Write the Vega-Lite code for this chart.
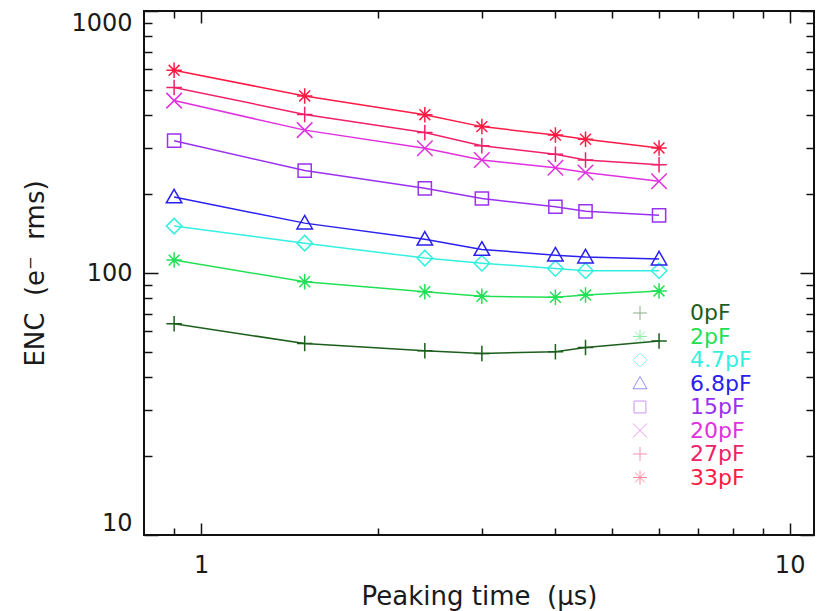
{
  "$schema": "https://vega.github.io/schema/vega-lite/v6.json",
  "width": 670,
  "height": 524,
  "autosize": {"type": "none"},
  "padding": {"left": 144, "top": 11, "right": 11, "bottom": 76},
  "background": "white",
  "config": {
    "font": "DejaVu Sans",
    "view": {"stroke": "#111111", "strokeWidth": 2},
    "axis": {"grid": false, "domain": false, "tickColor": "#111111", "tickWidth": 1.5, "labelColor": "#1a1a1a", "titleColor": "#1a1a1a", "labelFont": "DejaVu Sans", "titleFont": "DejaVu Sans"}
  },
  "data": {
    "values": [
      {"series": "0pF", "t": 0.9, "enc": 64},
      {"series": "0pF", "t": 1.5, "enc": 53.8},
      {"series": "0pF", "t": 2.4, "enc": 50.5},
      {"series": "0pF", "t": 3, "enc": 49.3},
      {"series": "0pF", "t": 4, "enc": 50.1},
      {"series": "0pF", "t": 4.5, "enc": 52},
      {"series": "0pF", "t": 6, "enc": 55},
      {"series": "2pF", "t": 0.9, "enc": 112},
      {"series": "2pF", "t": 1.5, "enc": 92.6},
      {"series": "2pF", "t": 2.4, "enc": 84.8},
      {"series": "2pF", "t": 3, "enc": 81.5},
      {"series": "2pF", "t": 4, "enc": 80.8},
      {"series": "2pF", "t": 4.5, "enc": 82.4},
      {"series": "2pF", "t": 6, "enc": 85.4},
      {"series": "4.7pF", "t": 0.9, "enc": 151},
      {"series": "4.7pF", "t": 1.5, "enc": 130},
      {"series": "4.7pF", "t": 2.4, "enc": 114},
      {"series": "4.7pF", "t": 3, "enc": 109},
      {"series": "4.7pF", "t": 4, "enc": 104},
      {"series": "4.7pF", "t": 4.5, "enc": 102},
      {"series": "4.7pF", "t": 6, "enc": 102},
      {"series": "6.8pF", "t": 0.9, "enc": 195},
      {"series": "6.8pF", "t": 1.5, "enc": 155},
      {"series": "6.8pF", "t": 2.4, "enc": 134.5},
      {"series": "6.8pF", "t": 3, "enc": 123},
      {"series": "6.8pF", "t": 4, "enc": 117},
      {"series": "6.8pF", "t": 4.5, "enc": 115},
      {"series": "6.8pF", "t": 6, "enc": 113},
      {"series": "15pF", "t": 0.9, "enc": 320},
      {"series": "15pF", "t": 1.5, "enc": 246},
      {"series": "15pF", "t": 2.4, "enc": 210.5},
      {"series": "15pF", "t": 3, "enc": 192.5},
      {"series": "15pF", "t": 4, "enc": 179},
      {"series": "15pF", "t": 4.5, "enc": 172},
      {"series": "15pF", "t": 6, "enc": 166},
      {"series": "20pF", "t": 0.9, "enc": 455},
      {"series": "20pF", "t": 1.5, "enc": 351},
      {"series": "20pF", "t": 2.4, "enc": 299.5},
      {"series": "20pF", "t": 3, "enc": 270},
      {"series": "20pF", "t": 4, "enc": 252},
      {"series": "20pF", "t": 4.5, "enc": 242},
      {"series": "20pF", "t": 6, "enc": 224},
      {"series": "27pF", "t": 0.9, "enc": 511},
      {"series": "27pF", "t": 1.5, "enc": 403},
      {"series": "27pF", "t": 2.4, "enc": 344},
      {"series": "27pF", "t": 3, "enc": 306},
      {"series": "27pF", "t": 4, "enc": 284},
      {"series": "27pF", "t": 4.5, "enc": 270},
      {"series": "27pF", "t": 6, "enc": 259},
      {"series": "33pF", "t": 0.9, "enc": 594},
      {"series": "33pF", "t": 1.5, "enc": 474},
      {"series": "33pF", "t": 2.4, "enc": 402},
      {"series": "33pF", "t": 3, "enc": 362},
      {"series": "33pF", "t": 4, "enc": 336},
      {"series": "33pF", "t": 4.5, "enc": 324},
      {"series": "33pF", "t": 6, "enc": 300}
    ]
  },
  "resolve": {"axis": {"x": "independent", "y": "independent"}},
  "layer": [
    {
      "mark": {"type": "line", "strokeWidth": 1.5},
      "encoding": {
        "x": {"field": "t", "type": "quantitative", "scale": {"type": "log", "domain": [0.8, 11], "nice": false},
          "axis": {"orient": "bottom", "values": [1, 10], "ticks": false, "labels": true, "format": "~g", "labelFontSize": 24, "labelPadding": 18, "labelFlush": false, "labelOverlap": false, "title": "Peaking time\u00a0\u00a0(μs)", "titleFontSize": 26, "titleFontWeight": "normal", "titlePadding": 6}},
        "y": {"field": "enc", "type": "quantitative", "scale": {"type": "log", "domain": [10, 1000], "nice": false},
          "axis": {"orient": "left", "values": [10, 100, 1000], "ticks": false, "labels": true, "format": "~g", "labelFontSize": 24, "labelPadding": 12, "labelFlush": true, "labelOverlap": false, "title": "ENC\u00a0\u00a0(e⁻\u00a0\u00a0rms)", "titleFontSize": 26, "titleFontWeight": "normal", "titlePadding": 22}},
        "stroke": {"field": "series", "type": "nominal",
          "scale": {"domain": ["33pF", "27pF", "20pF", "15pF", "6.8pF", "4.7pF", "2pF", "0pF"],
                    "range": ["#ff1a44", "#f0206a", "#e030e0", "#9a30f0", "#2a20f0", "#33f0e0", "#22e055", "#1c5e1c"]},
          "legend": null}
      }
    },
    {
      "mark": {"type": "point", "filled": false, "strokeWidth": 1.5, "size": 240, "opacity": 1},
      "encoding": {
        "x": {"field": "t", "type": "quantitative", "scale": {"type": "log", "domain": [0.8, 11], "nice": false},
          "axis": {"orient": "bottom", "values": [1, 10], "labels": false, "title": null, "tickSize": -12}},
        "y": {"field": "enc", "type": "quantitative", "scale": {"type": "log", "domain": [10, 1000], "nice": false},
          "axis": {"orient": "left", "values": [10, 100, 1000], "labels": false, "title": null, "tickSize": -14}},
        "color": {"field": "series", "type": "nominal",
          "scale": {"domain": ["0pF", "2pF", "4.7pF", "6.8pF", "15pF", "20pF", "27pF", "33pF"],
                    "range": ["#1c5e1c", "#22e055", "#33f0e0", "#2a20f0", "#9a30f0", "#e030e0", "#f0206a", "#ff1a44"]},
          "legend": {"orient": "none", "legendX": 485, "legendY": 291, "title": null, "labelFont": "DejaVu Sans", "labelFontSize": 22, "labelOffset": 39, "rowPadding": 1.5, "symbolSize": 196, "symbolStrokeWidth": 1, "symbolOpacity": 0.5, "padding": 0,
            "labelColor": {"expr": "scale('color', datum.value)"}}},
        "shape": {"field": "series", "type": "nominal",
          "scale": {"domain": ["0pF", "2pF", "4.7pF", "6.8pF", "15pF", "20pF", "27pF", "33pF"],
                    "range": ["M-1,0L1,0M0,-1L0,1",
                              "M0,-1L0,1M-1,0L1,0M-0.7,-0.7L0.7,0.7M-0.7,0.7L0.7,-0.7",
                              "M0,-1L1,0L0,1L-1,0Z",
                              "M0,-1L1,0.75L-1,0.75Z",
                              "M-0.85,-0.85L0.85,-0.85L0.85,0.85L-0.85,0.85Z",
                              "M-1,-1L1,1M-1,1L1,-1",
                              "M-1,0L1,0M0,-1L0,1",
                              "M0,-1L0,1M-1,0L1,0M-0.7,-0.7L0.7,0.7M-0.7,0.7L0.7,-0.7"]},
          "legend": {"orient": "none", "legendX": 485, "legendY": 291, "title": null, "labelFont": "DejaVu Sans", "labelFontSize": 22, "labelOffset": 39, "rowPadding": 1.5, "symbolSize": 196, "symbolStrokeWidth": 1, "symbolOpacity": 0.5, "padding": 0,
            "labelColor": {"expr": "scale('color', datum.value)"}}}
      }
    },
    {
      "mark": {"type": "point", "opacity": 0},
      "encoding": {
        "x": {"field": "t", "type": "quantitative", "scale": {"type": "log", "domain": [0.8, 11], "nice": false},
          "axis": {"orient": "bottom", "values": [0.9, 2, 3, 4, 5, 6, 7, 8, 9], "labels": false, "title": null, "tickSize": -7}},
        "y": {"field": "enc", "type": "quantitative", "scale": {"type": "log", "domain": [10, 1000], "nice": false},
          "axis": {"orient": "left", "values": [20, 30, 40, 50, 60, 70, 80, 90, 200, 300, 400, 500, 600, 700, 800, 900], "labels": false, "title": null, "tickSize": -8}}
      }
    },
    {
      "mark": {"type": "point", "opacity": 0},
      "encoding": {
        "x": {"field": "t", "type": "quantitative", "scale": {"type": "log", "domain": [0.8, 11], "nice": false},
          "axis": {"orient": "top", "values": [1, 10], "labels": false, "title": null, "tickSize": -12}},
        "y": {"field": "enc", "type": "quantitative", "scale": {"type": "log", "domain": [10, 1000], "nice": false},
          "axis": {"orient": "right", "values": [10, 100, 1000], "labels": false, "title": null, "tickSize": -14}}
      }
    },
    {
      "mark": {"type": "point", "opacity": 0},
      "encoding": {
        "x": {"field": "t", "type": "quantitative", "scale": {"type": "log", "domain": [0.8, 11], "nice": false},
          "axis": {"orient": "top", "values": [0.9, 2, 3, 4, 5, 6, 7, 8, 9], "labels": false, "title": null, "tickSize": -7}},
        "y": {"field": "enc", "type": "quantitative", "scale": {"type": "log", "domain": [10, 1000], "nice": false},
          "axis": {"orient": "right", "values": [20, 30, 40, 50, 60, 70, 80, 90, 200, 300, 400, 500, 600, 700, 800, 900], "labels": false, "title": null, "tickSize": -8}}
      }
    }
  ]
}
